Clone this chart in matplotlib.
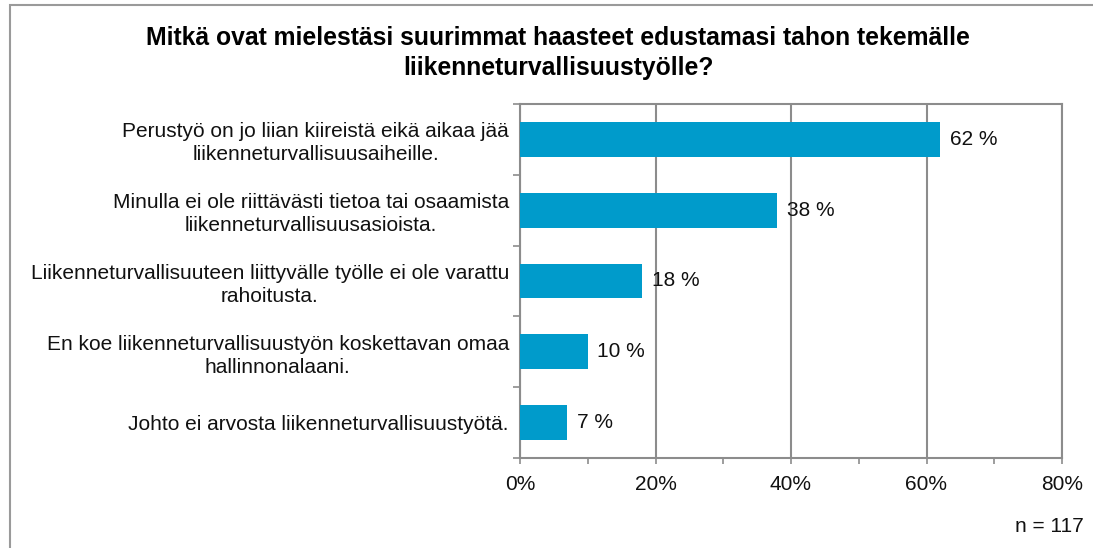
import matplotlib.pyplot as plt
from matplotlib.patches import Rectangle
from matplotlib.ticker import MultipleLocator, FuncFormatter

title = "Mitkä ovat mielestäsi suurimmat haasteet edustamasi tahon tekemälle\nliikenneturvallisuustyölle?"
categories = [
    "Perustyö on jo liian kiireistä eikä aikaa jää\nliikenneturvallisuusaiheille.",
    "Minulla ei ole riittävästi tietoa tai osaamista\nliikenneturvallisuusasioista.",
    "Liikenneturvallisuuteen liittyvälle työlle ei ole varattu\nrahoitusta.",
    "En koe liikenneturvallisuustyön koskettavan omaa\nhallinnonalaani.",
    "Johto ei arvosta liikenneturvallisuustyötä.",
]
values = [62, 38, 18, 10, 7]
value_labels = ["62 %", "38 %", "18 %", "10 %", "7 %"]
note = "n = 117"

plt.rcParams["font.family"] = ["Liberation Sans", "DejaVu Sans"]
grid_col = "#8c8c8c"
bar_col = "#009BCB"

fig = plt.figure(figsize=(10.93, 5.48), dpi=100)
fig.patches.append(Rectangle((10 / 1093, -0.1), 1.2, 1 - 5 / 548 + 0.1,
                             transform=fig.transFigure, fill=False,
                             edgecolor="#9a9a9a", linewidth=1.5))
# axes box: x 520..1062 px, y 104..458 px
ax = fig.add_axes([520 / 1093, 1 - 458 / 548, 542 / 1093, 354 / 548])

y = list(range(len(categories)))
ax.barh(y, values, height=0.49, color=bar_col, zorder=3)
for yi, v, lab in zip(y, values, value_labels):
    ax.annotate(lab, (v, yi), xytext=(7, 0), textcoords="offset points",
                va="center", ha="left", fontsize=15, color="#111111")

ax.set_ylim(len(categories) - 0.5, -0.5)
ax.set_xlim(0, 80)
ax.set_yticks(y)
ax.set_yticklabels(categories, fontsize=15, multialignment="center",
                   linespacing=1.25, color="#111111")
ax.tick_params(axis="y", length=0, pad=8)
ax.set_yticks([i + 0.5 for i in range(-1, len(categories))], minor=True)
ax.tick_params(axis="y", which="minor", length=5, color=grid_col, width=1.2)

ax.xaxis.set_major_locator(MultipleLocator(20))
ax.xaxis.set_minor_locator(MultipleLocator(10))
ax.xaxis.set_major_formatter(FuncFormatter(lambda v, p: f"{v:.0f}%"))
ax.tick_params(axis="x", which="both", length=4, color=grid_col, width=1.2,
               labelsize=15, pad=8, labelcolor="#111111")
ax.grid(axis="x", which="major", color=grid_col, linewidth=1.5, zorder=0)
for s in ax.spines.values():
    s.set_color(grid_col)
    s.set_linewidth(1.5)

fig.text(558 / 1093, 1 - 53 / 548, title, ha="center", va="center",
         fontsize=17.8, fontweight="bold", linespacing=1.32)
fig.text(1084 / 1093, 1 - 526 / 548, note, ha="right", va="center",
         fontsize=15, color="#111111")

fig.savefig("out.png", dpi=100)
